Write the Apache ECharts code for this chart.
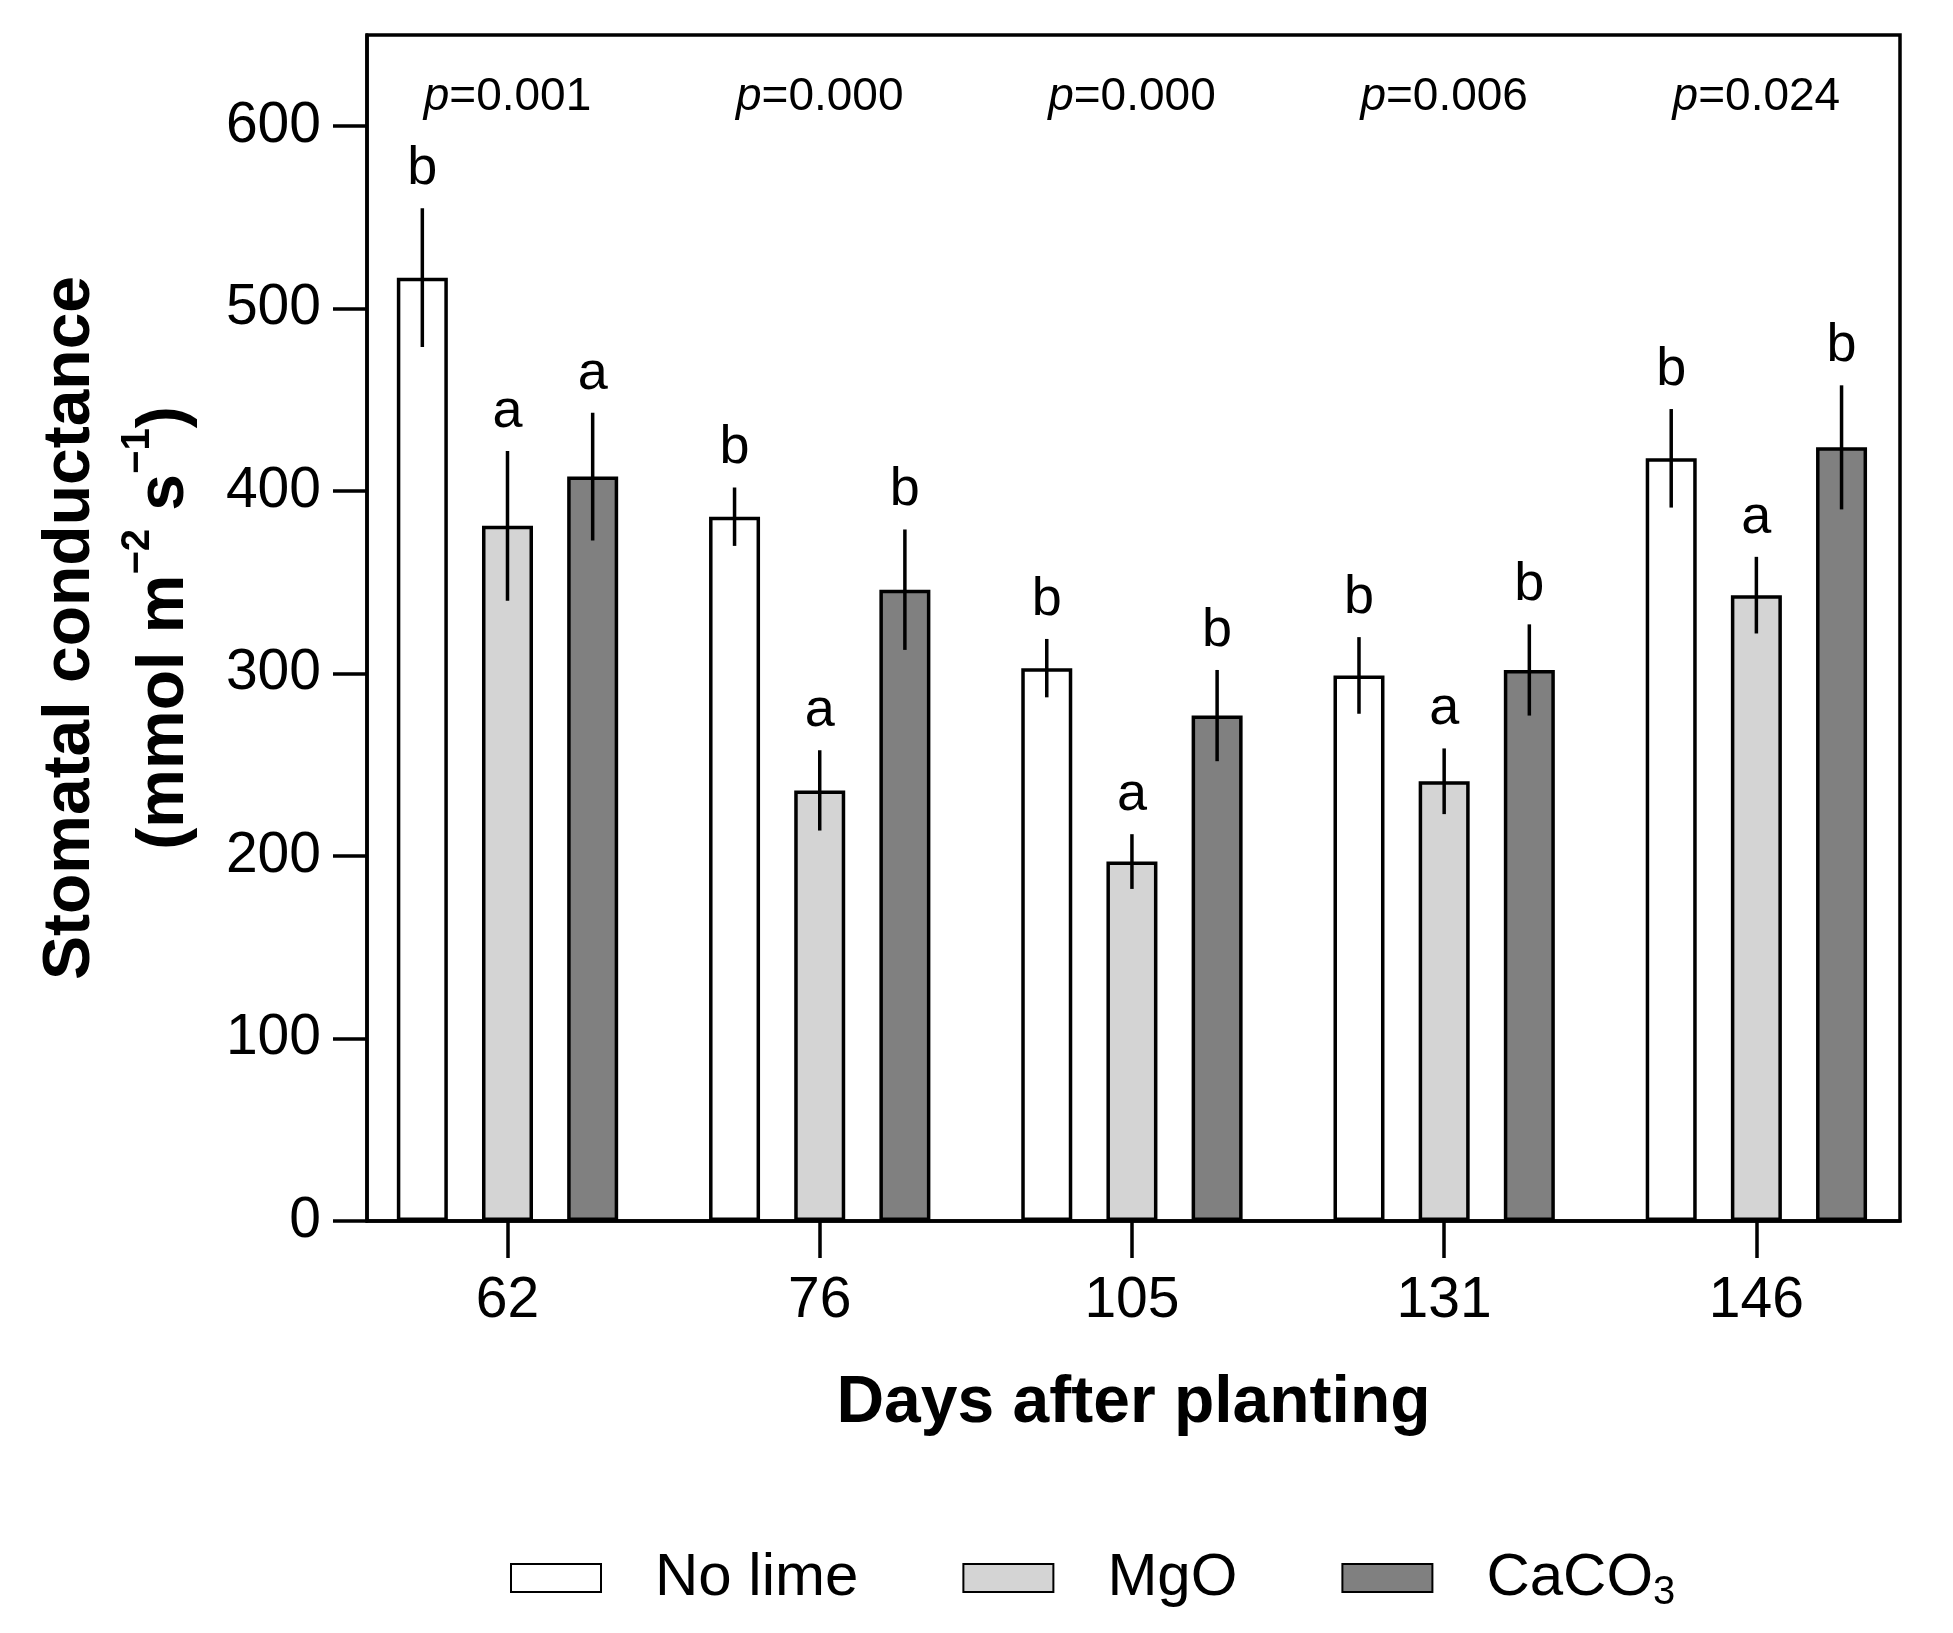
<!DOCTYPE html>
<html>
<head>
    <meta charset="utf-8">
    <title>Stomatal conductance</title>
    <script src="https://cdn.jsdelivr.net/npm/echarts@6/dist/echarts.min.js"></script>
    <style>
        html, body { margin: 0; padding: 0; background: #fff; }
        #chart1 { width: 1953px; height: 1633px; }
    </style>
</head>
<body>
<div id="chart1"></div>
<script type="text/javascript">
    // 数据
    var days = ['62', '76', '105', '131', '146'];
    var noLime = [517, 386, 303, 299, 418];
    var mgo = [381, 236, 197, 241, 343];
    var caco3 = [408, 346, 277, 302, 424];
    // 误差 (SE)
    var noLimeSe = [38, 16, 16, 21, 27];
    var mgoSe = [41, 22, 15, 18, 21];
    var caco3Se = [35, 33, 25, 25, 34];
    // 显著性字母
    var noLimeLetters = ['b', 'b', 'b', 'b', 'b'];
    var mgoLetters = ['a', 'a', 'a', 'a', 'a'];
    var caco3Letters = ['a', 'b', 'b', 'b', 'b'];
    var pValues = ['0.001', '0.000', '0.000', '0.006', '0.024'];
    var yTicks = [0, 100, 200, 300, 400, 500, 600];

    var FONT = 'Liberation Sans';
    var BAR_W = 51;
    var BAR_GAP = 0.67;
    var PITCH = BAR_W * (1 + BAR_GAP);
    var LW = 3.5;

    function pairs(arr) {
        return arr.map(function (v, i) { return [i, v]; });
    }
    function triples(arr, se) {
        return arr.map(function (v, i) { return [i, v, se[i]]; });
    }

    function barSeries(name, values, color) {
        return {
            name: name,
            type: 'bar',
            data: pairs(values),
            barWidth: BAR_W,
            barGap: (BAR_GAP * 100) + '%',
            itemStyle: { color: color, borderColor: '#000', borderWidth: LW },
            z: 2
        };
    }

    function errSeries(values, se, letters, k) {
        var off = (k - 1) * PITCH;
        return {
            type: 'custom',
            data: triples(values, se),
            z: 5,
            silent: true,
            renderItem: function (params, api) {
                var x = api.value(0), m = api.value(1), s = api.value(2);
                var top = api.coord([x, m + s]);
                var bot = api.coord([x, m - s]);
                var px = top[0] + off;
                return {
                    type: 'group',
                    children: [
                        {
                            type: 'line',
                            shape: { x1: px, y1: top[1], x2: px, y2: bot[1] },
                            style: { stroke: '#000', lineWidth: LW }
                        },
                        {
                            type: 'text',
                            x: px,
                            y: top[1] - 12,
                            style: {
                                text: letters[params.dataIndex],
                                fontSize: 54,
                                fontFamily: FONT,
                                fill: '#000',
                                align: 'center',
                                verticalAlign: 'bottom'
                            }
                        }
                    ]
                };
            }
        };
    }

    var myChart1 = echarts.init(document.getElementById('chart1'));

    myChart1.setOption({
        animation: false,
        backgroundColor: '#fff',
        textStyle: { fontFamily: FONT, color: '#000' },
        grid: {
            left: 367,
            right: 53,
            top: 35,
            bottom: 412,
            show: true,
            borderColor: '#000',
            borderWidth: LW,
            outerBoundsMode: 'none'
        },
        legend: {
            left: 510,
            top: 1543,
            padding: 0,
            itemWidth: 90,
            itemHeight: 28,
            itemGap: 104,
            icon: 'rect',
            data: ['No lime', 'MgO', 'CaCO3'],
            formatter: function (name) {
                return name === 'CaCO3' ? 'CaCO{sub|3}' : name;
            },
            textStyle: {
                fontSize: 60,
                fontFamily: FONT,
                color: '#000',
                lineHeight: 70,
                padding: [0, 0, 0, 49],
                rich: {
                    sub: { fontSize: 40, fontFamily: FONT, color: '#000', verticalAlign: 'bottom', lineHeight: 50 }
                }
            }
        },
        xAxis: {
            type: 'value',
            min: -0.45,
            max: 4.46,
            name: 'Days after planting',
            nameLocation: 'middle',
            nameGap: 150,
            nameTextStyle: { fontSize: 66, fontWeight: 'bold', fontFamily: FONT, color: '#000' },
            splitLine: { show: false },
            axisLine: { show: true, onZero: false, lineStyle: { color: '#000', width: LW } },
            axisTick: {
                show: true,
                length: 37,
                lineStyle: { color: '#000', width: LW },
                customValues: [0, 1, 2, 3, 4]
            },
            axisLabel: {
                fontSize: 57,
                color: '#000',
                margin: 52,
                customValues: [0, 1, 2, 3, 4],
                formatter: function (v) { return days[Math.round(v)]; }
            }
        },
        yAxis: {
            type: 'value',
            min: 0,
            max: 650,
            interval: 100,
            name: '{t|Stomatal conductance}\n{t|(mmol m}{s|\u22122}{t| s}{s|\u22121}{t|)}',
            nameLocation: 'middle',
            nameRotate: 90,
            nameGap: 155,
            nameTextStyle: {
                fontSize: 66,
                fontWeight: 'bold',
                fontFamily: FONT,
                color: '#000',
                lineHeight: 94,
                rich: {
                    t: { fontSize: 66, fontWeight: 'bold', fontFamily: FONT, color: '#000', lineHeight: 94 },
                    s: { fontSize: 40, fontWeight: 'bold', fontFamily: FONT, color: '#000', lineHeight: 60, verticalAlign: 'top' }
                }
            },
            splitLine: { show: false },
            axisLine: { show: true, onZero: false, lineStyle: { color: '#000', width: LW } },
            axisTick: {
                show: true,
                length: 34,
                lineStyle: { color: '#000', width: LW },
                customValues: yTicks
            },
            axisLabel: {
                fontSize: 57,
                color: '#000',
                margin: 46,
                customValues: yTicks
            }
        },
        series: [
            barSeries('No lime', noLime, '#ffffff'),
            barSeries('MgO', mgo, '#d4d4d4'),
            barSeries('CaCO3', caco3, '#808080'),
            errSeries(noLime, noLimeSe, noLimeLetters, 0),
            errSeries(mgo, mgoSe, mgoLetters, 1),
            errSeries(caco3, caco3Se, caco3Letters, 2),
            {
                // p 值
                type: 'custom',
                data: pValues.map(function (p, i) { return [i, 616]; }),
                silent: true,
                z: 5,
                renderItem: function (params, api) {
                    var pt = api.coord([api.value(0), api.value(1)]);
                    return {
                        type: 'text',
                        x: pt[0],
                        y: pt[1],
                        style: {
                            text: '{i|p}=' + pValues[params.dataIndex],
                            fontSize: 46,
                            fontFamily: FONT,
                            fill: '#000',
                            align: 'center',
                            verticalAlign: 'middle',
                            rich: {
                                i: { fontSize: 46, fontFamily: FONT, fontStyle: 'italic', fill: '#000' }
                            }
                        }
                    };
                }
            }
        ]
    });
</script>
</body>
</html>
